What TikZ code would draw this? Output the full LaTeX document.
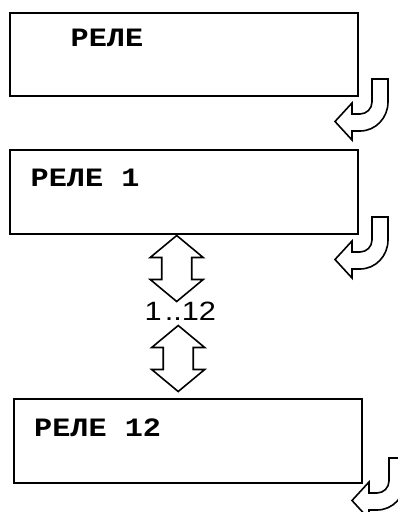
\documentclass[tikz,border=0pt]{standalone}
\usepackage{fontspec}
\newfontfamily\relefont{Liberation Mono}[FakeStretch=1.14]
\newfontfamily\numfont{Liberation Sans}[FakeStretch=1.16]
\newcommand{\lw}{1.6pt}

\begin{document}
\begin{tikzpicture}[x=1pt, y=-1pt,
    menu/.style = {draw, line width=2pt, minimum width=348pt, minimum height=83.5pt, inner sep=0pt},
    title/.style = {anchor=base west, inner sep=0pt, font=\relefont\bfseries\fontsize{26.5}{30}\selectfont},
    block/.style = {draw, line width=\lw, fill=white, line join=miter}]
    \useasboundingbox (0,0) rectangle (398,512);
    \clip (0,0) rectangle (398,512);

    \node[menu] (rele0) at (184.2,54.4) {};
    \node[menu] (rele1) at (184.2,192.2) {};
    \node[menu] (rele12) at (187.9,441.2) {};

    \node[title] (name0) at (70.5,46.7) {РЕЛЕ};
    \node[title] (name1) at (30.5,186.7) {РЕЛЕ 1};
    \node[title] (name12) at (34,436.7) {РЕЛЕ 12};

    % turn arrows at the right side
    \foreach \dx/\dy in {0/0, 0/138, 17/379} {
        \draw[block, shift={(\dx,\dy)}] (372,79) -- (388,79) -- (388,102)
            .. controls (388,118) and (375.5,131) .. (360,131) -- (352,131)
            -- (352,140) -- (335,121.5) -- (352,103) -- (352,114) -- (360,114)
            .. controls (366.6,114) and (372,108.6) .. (372,102) -- cycle;
    }

    % up/down arrows
    \foreach \dx/\dy in {0/0, 1.5/90} {
        \draw[block, shift={(\dx,\dy)}] (176.7,235.5) -- (203.2,257.5) -- (191.7,257.5)
            -- (191.7,279.5) -- (203.2,279.5) -- (176.7,301.5) -- (150.2,279.5)
            -- (161.7,279.5) -- (161.7,257.5) -- (150.2,257.5) -- cycle;
    }
    \node[anchor=base west, inner sep=0pt, font=\numfont\fontsize{26.5}{30}\selectfont] (range) at (144.5,320.7) {1\kern3pt..12};
\end{tikzpicture}
\end{document}
